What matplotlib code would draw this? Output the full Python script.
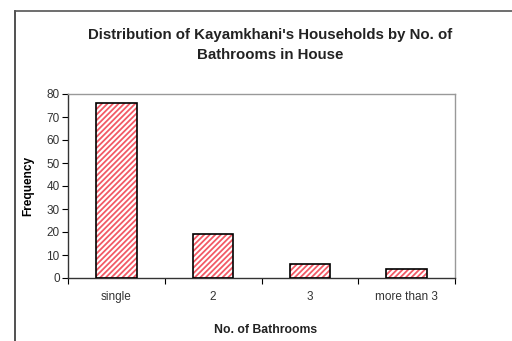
import matplotlib
matplotlib.use("Agg")
import matplotlib.pyplot as plt
from matplotlib.lines import Line2D

plt.rcParams['font.family'] = ['Liberation Sans', 'DejaVu Sans']
plt.rcParams['hatch.linewidth'] = 1.3

categories = ["single", "2", "3", "more than 3"]
values = [76, 19, 6, 4]
yticks = [0, 10, 20, 30, 40, 50, 60, 70, 80]
title = "Distribution of Kayamkhani's Households by No. of\nBathrooms in House"

W, H = 512, 341
fig = plt.figure(figsize=(W/100, H/100), dpi=100)
fig.patch.set_facecolor('white')
ax = fig.add_axes([68/W, 1-278/H, (455-68)/W, (278-94)/H])

x = list(range(len(categories)))
ax.bar(x, values, width=0.42, color='white', edgecolor='#f25a66', hatch='//////', linewidth=0, zorder=2)
ax.bar(x, values, width=0.42, fill=False, edgecolor='black', linewidth=1.2, zorder=3)

ax.set_xlim(-0.5, len(categories)-0.5)
ax.set_ylim(0, 80)
ax.set_yticks(yticks)
ax.set_xticks([i + 0.5 for i in range(-1, len(categories))])
ax.set_xticklabels([])
ax.set_xticks(x, minor=True)
ax.set_xticklabels(categories, minor=True)
ax.tick_params(axis='x', which='minor', length=0, pad=9.5, labelsize=8.5, colors='#333333')
ax.tick_params(axis='x', which='major', length=4, direction='out', color='black')
ax.tick_params(axis='y', length=4, direction='out', labelsize=8.5, colors='black', labelcolor='#333333', pad=2)

for s in ['top', 'right']:
    ax.spines[s].set_color('#999999')
    ax.spines[s].set_linewidth(1.0)
for s in ['left', 'bottom']:
    ax.spines[s].set_color('#333333')
    ax.spines[s].set_linewidth(1.0)

ax.set_ylabel("Frequency", fontsize=8.6, fontweight='bold', labelpad=9)
fig.text(266/W, 1-330/H, "No. of Bathrooms", ha='center', va='center',
         fontsize=8.8, fontweight='bold', color='#222222')

fig.text(270/W, 1-45/H, title, ha='center', va='center', fontsize=10.8,
         fontweight='bold', color='#222222', linespacing=1.5)

fig.add_artist(Line2D([15/W, 15/W], [0, 1-11/H], transform=fig.transFigure, color='#333333', lw=1.2))
fig.add_artist(Line2D([15/W, 1], [1-11/H, 1-11/H], transform=fig.transFigure, color='#555555', lw=1.2))

fig.savefig("out.png", dpi=100)
